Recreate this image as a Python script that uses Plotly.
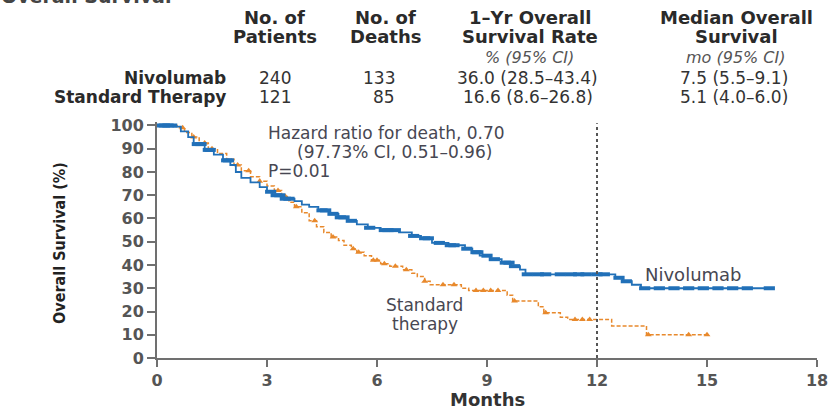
import plotly.graph_objects as go

# ---- Kaplan-Meier step data (months, % surviving after each step) ----
nivo_t = [0, 0.45, 0.65, 0.85, 1.0, 1.3, 1.55, 1.8, 2.0, 2.15, 2.3, 2.55, 2.8, 3.0,
          3.15, 3.45, 3.75, 3.95, 4.15, 4.4, 4.7, 4.95, 5.2, 5.45, 5.75, 6.1, 6.6,
          6.95, 7.2, 7.5, 7.95, 8.4, 8.6, 8.8, 9.1, 9.4, 9.65, 9.9, 10.05, 12.5,
          12.7, 12.95, 13.2, 16.7]
nivo_s = [100, 99.5, 97.5, 95, 92, 89.5, 87.5, 85, 83, 80, 77.5, 75.5, 73.5, 71.5,
          70, 68.5, 67.5, 66, 65, 63.5, 62, 60.5, 59, 57.5, 56, 55, 54,
          52.5, 51.5, 49.5, 48.5, 47, 45.5, 44, 42.5, 41, 39.5, 38, 36.0, 34.5,
          33, 31.5, 30, 30]
nivo_cens = [0.1, 0.2, 0.3, 0.4, 1.1, 1.2, 1.4, 1.45, 1.9, 1.95, 3.1, 3.25, 3.35,
             3.5, 3.6, 4.5, 4.6, 4.8, 5.0, 5.1, 5.3, 5.8, 6.2, 6.3, 6.5, 7.0, 7.3,
             7.4, 7.7, 8.0, 8.1, 8.45, 8.7, 8.75, 9.0, 9.2, 9.5, 9.6, 9.75, 10.1,
             10.4, 10.6, 11.0, 11.3, 11.5, 11.7, 12.0, 12.2, 12.6, 12.8, 13.3, 13.7,
             14.1, 14.5, 14.9, 15.3, 15.7, 16.1, 16.7]

std_t = [0, 0.55, 0.75, 0.95, 1.15, 1.4, 1.65, 1.9, 2.1, 2.3, 2.55, 2.8, 3.0, 3.2,
         3.4, 3.6, 3.75, 3.95, 4.15, 4.35, 4.55, 4.75, 4.95, 5.1, 5.3, 5.45, 5.65,
         5.85, 6.1, 6.35, 6.7, 6.95, 7.1, 7.3, 7.45, 8.3, 8.5, 9.55, 9.7, 10.4,
         10.55, 11.0, 11.2, 12.4, 13.35, 15.05]
std_s = [100, 99, 97, 95, 92.5, 90, 88, 85.5, 83, 80.5, 78, 76, 74, 72,
         69.5, 67, 65, 62.5, 59, 56.5, 54, 52, 50.5, 48.5, 47, 45.5, 44,
         42, 40.5, 39.5, 38, 36.5, 35, 33, 31.5, 30, 29, 27, 24.5, 22,
         19.5, 17.5, 16.6, 13.8, 10, 10]
std_cens = [0.7, 1.0, 1.3, 1.5, 2.2, 2.5, 2.8, 3.3, 3.5, 3.8, 4.3, 4.8, 5.35, 5.5,
            5.9, 6.0, 6.2, 6.5, 6.8, 7.3, 7.8, 8.1, 8.7, 8.9, 9.1, 9.3, 9.75, 10.6,
            11.4, 11.6, 11.8, 13.4, 14.5, 15.0]

x_ticks = [0, 3, 6, 9, 12, 15, 18]
y_ticks = list(range(0, 101, 10))

# ---- summary table ----
col_headers = [["No. of", "Patients"], ["No. of", "Deaths"],
               ["1\u2013Yr Overall", "Survival Rate"], ["Median Overall", "Survival"]]
col_units = ["% (95% CI)", "mo (95% CI)"]
groups = ["Nivolumab", "Standard Therapy"]
n_patients = ["240", "121"]
n_deaths = ["133", "85"]
one_yr_rate = ["36.0 (28.5\u201343.4)", "16.6 (8.6\u201326.8)"]
median_os = ["7.5 (5.5\u20139.1)", "5.1 (4.0\u20136.0)"]

BLUE = "#2170b8"
ORANGE = "#e8892c"
AXIS = "#707070"
FONT = "DejaVu Sans"

W, H = 840, 412
L, R, T, B = 157, 17, 122, 54


def px_x(p):
    return (p - L) / (W - L - R)


def px_y(p):
    return (H - B - p) / (H - T - B)


def surv_at(times, vals, t):
    s = vals[0]
    for ti, vi in zip(times, vals):
        if ti <= t:
            s = vi
    return s


fig = go.Figure()

fig.add_trace(go.Scatter(x=std_t, y=std_s, mode="lines", line_shape="hv",
                         line=dict(color=ORANGE, width=1.5, dash="4px,2px"),
                         hoverinfo="skip", showlegend=False))
fig.add_trace(go.Scatter(x=std_cens, y=[surv_at(std_t, std_s, t) for t in std_cens],
                         mode="markers",
                         marker=dict(symbol="triangle-up", size=6, color=ORANGE),
                         showlegend=False))
fig.add_trace(go.Scatter(x=nivo_t, y=nivo_s, mode="lines", line_shape="hv",
                         line=dict(color=BLUE, width=1.8),
                         hoverinfo="skip", showlegend=False))
fig.add_trace(go.Scatter(x=nivo_cens, y=[surv_at(nivo_t, nivo_s, t) for t in nivo_cens],
                         mode="markers",
                         marker=dict(symbol="line-ew", size=8,
                                     line=dict(color=BLUE, width=4)),
                         showlegend=False))

# 12-month reference line
fig.add_shape(type="line", x0=12, x1=12, y0=0, y1=101, xref="x", yref="y",
              line=dict(color="#555555", width=2, dash="dot"))

ann = []


def text(s, px, py, size, color="#2a2a2a", bold=False, italic=False,
         anchor="center", family=FONT, angle=0, yanchor="middle"):
    ann.append(dict(text=s, x=px_x(px), y=px_y(py), xref="paper", yref="paper",
                    xanchor=anchor, yanchor=yanchor, showarrow=False, textangle=angle,
                    font=dict(family=family, size=size, color=color,
                              weight="bold" if bold else "normal",
                              style="italic" if italic else "normal")))


# panel title, running off the top edge
text("Overall Survival", -2, 9, 19, color="#444444", bold=True, anchor="left",
     yanchor="bottom")

# table header
hdr_x = [276, 388, 533, 742]
for cx, lines in zip(hdr_x, col_headers):
    text(lines[0], cx, 17, 18, bold=True)
    text(lines[1], cx, 36, 18, bold=True)
text(col_units[0], 533, 57, 16, color="#555555", italic=True)
text(col_units[1], 741, 57, 16, color="#555555", italic=True)

row_y = [78, 97]
for i, yy in enumerate(row_y):
    text(groups[i], 229, yy, 17, bold=True, anchor="right")
    text(n_patients[i], 276, yy, 17, color="#333333")
    text(n_deaths[i], 399, yy, 17, color="#333333", anchor="right")
    text(one_yr_rate[i], 531, yy, 17, color="#333333")
    text(median_os[i], 739, yy, 17, color="#333333")

# in-plot annotations
GREY = "#474752"
text("Hazard ratio for death, 0.70", 267, 133, 17, color=GREY, anchor="left")
text("(97.73% CI, 0.51\u20130.96)", 296, 152, 17, color=GREY, anchor="left")
text("P=0.01", 267, 171, 17, color=GREY, anchor="left")
text("Nivolumab", 647, 274, 18, color=GREY, anchor="left")
text("Standard", 427, 305, 17, color=GREY)
text("therapy", 427, 324, 17, color=GREY)

# axis titles
text("Overall Survival (%)", 58, 243, 16, color="#222222", bold=True,
     family="Liberation Sans Narrow, DejaVu Sans Condensed, sans-serif", angle=-90)
text("Months", 491, 399, 18, color="#333333", bold=True)

axis_font = dict(family=FONT, size=16, color="#555555", weight="bold")
fig.update_layout(
    width=W, height=H,
    margin=dict(l=L, r=R, t=T, b=B, pad=0),
    paper_bgcolor="white", plot_bgcolor="white",
    annotations=ann,
    xaxis=dict(range=[0, 18], tickvals=x_ticks, ticks="outside", ticklen=7,
               tickwidth=1.5, tickcolor=AXIS, showline=True, linecolor=AXIS,
               linewidth=2, showgrid=False, zeroline=False, tickfont=axis_font),
    yaxis=dict(range=[0, 101.5], tickvals=y_ticks, ticks="outside", ticklen=8,
               tickwidth=1.5, tickcolor=AXIS, showline=True, linecolor=AXIS,
               linewidth=2, showgrid=False, zeroline=False, tickfont=axis_font),
)

fig.write_html("out.html")
